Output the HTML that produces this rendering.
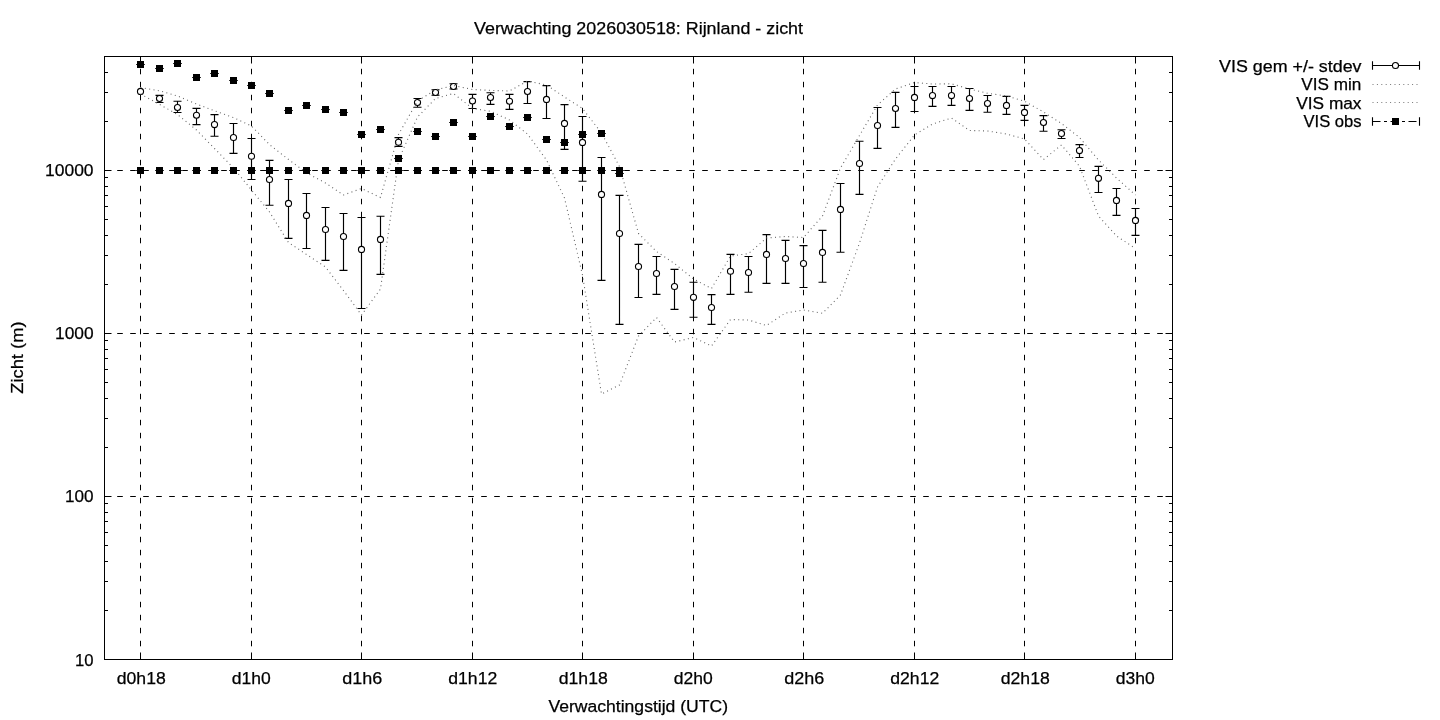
<!DOCTYPE html>
<html><head><meta charset="utf-8"><style>
html,body{margin:0;padding:0;background:#fff;width:1440px;height:720px;overflow:hidden}
svg{display:block;will-change:transform}
text{font-family:"Liberation Sans", sans-serif;fill:#000;stroke:#000;stroke-width:0.25px}
</style></head><body>
<svg width="1440" height="720" viewBox="0 0 1440 720">
<rect width="1440" height="720" fill="#fff"/>
<line x1="140.5" y1="659.3" x2="140.5" y2="56.5" stroke="#000" stroke-width="1" stroke-dasharray="5.5 7.5"/>
<line x1="251.5" y1="659.3" x2="251.5" y2="56.5" stroke="#000" stroke-width="1" stroke-dasharray="5.5 7.5"/>
<line x1="361.5" y1="659.3" x2="361.5" y2="56.5" stroke="#000" stroke-width="1" stroke-dasharray="5.5 7.5"/>
<line x1="472.5" y1="659.3" x2="472.5" y2="56.5" stroke="#000" stroke-width="1" stroke-dasharray="5.5 7.5"/>
<line x1="582.5" y1="659.3" x2="582.5" y2="56.5" stroke="#000" stroke-width="1" stroke-dasharray="5.5 7.5"/>
<line x1="693.5" y1="659.3" x2="693.5" y2="56.5" stroke="#000" stroke-width="1" stroke-dasharray="5.5 7.5"/>
<line x1="803.5" y1="659.3" x2="803.5" y2="56.5" stroke="#000" stroke-width="1" stroke-dasharray="5.5 7.5"/>
<line x1="914.5" y1="659.3" x2="914.5" y2="56.5" stroke="#000" stroke-width="1" stroke-dasharray="5.5 7.5"/>
<line x1="1024.5" y1="659.3" x2="1024.5" y2="56.5" stroke="#000" stroke-width="1" stroke-dasharray="5.5 7.5"/>
<line x1="1135.5" y1="659.3" x2="1135.5" y2="56.5" stroke="#000" stroke-width="1" stroke-dasharray="5.5 7.5"/>
<line x1="104.2" y1="170.5" x2="1172.5" y2="170.5" stroke="#000" stroke-width="1" stroke-dasharray="5.6 7.4"/>
<line x1="104.2" y1="333.5" x2="1172.5" y2="333.5" stroke="#000" stroke-width="1" stroke-dasharray="5.6 7.4"/>
<line x1="104.2" y1="496.5" x2="1172.5" y2="496.5" stroke="#000" stroke-width="1" stroke-dasharray="5.6 7.4"/>
<path d="M140.5 659.5v-7M140.5 56.5v7M251.5 659.5v-7M251.5 56.5v7M361.5 659.5v-7M361.5 56.5v7M472.5 659.5v-7M472.5 56.5v7M582.5 659.5v-7M582.5 56.5v7M693.5 659.5v-7M693.5 56.5v7M803.5 659.5v-7M803.5 56.5v7M914.5 659.5v-7M914.5 56.5v7M1024.5 659.5v-7M1024.5 56.5v7M1135.5 659.5v-7M1135.5 56.5v7M104.5 170.5h7M1172.5 170.5h-7M104.5 333.5h7M1172.5 333.5h-7M104.5 496.5h7M1172.5 496.5h-7M104.5 610.50h3.5M1172.5 610.50h-3.5M104.5 581.50h3.5M1172.5 581.50h-3.5M104.5 561.50h3.5M1172.5 561.50h-3.5M104.5 545.50h3.5M1172.5 545.50h-3.5M104.5 532.50h3.5M1172.5 532.50h-3.5M104.5 521.50h3.5M1172.5 521.50h-3.5M104.5 512.50h3.5M1172.5 512.50h-3.5M104.5 503.50h3.5M1172.5 503.50h-3.5M104.5 447.50h3.5M1172.5 447.50h-3.5M104.5 418.50h3.5M1172.5 418.50h-3.5M104.5 398.50h3.5M1172.5 398.50h-3.5M104.5 382.50h3.5M1172.5 382.50h-3.5M104.5 369.50h3.5M1172.5 369.50h-3.5M104.5 358.50h3.5M1172.5 358.50h-3.5M104.5 349.50h3.5M1172.5 349.50h-3.5M104.5 340.50h3.5M1172.5 340.50h-3.5M104.5 284.50h3.5M1172.5 284.50h-3.5M104.5 255.50h3.5M1172.5 255.50h-3.5M104.5 235.50h3.5M1172.5 235.50h-3.5M104.5 219.50h3.5M1172.5 219.50h-3.5M104.5 206.50h3.5M1172.5 206.50h-3.5M104.5 195.50h3.5M1172.5 195.50h-3.5M104.5 186.50h3.5M1172.5 186.50h-3.5M104.5 177.50h3.5M1172.5 177.50h-3.5M104.5 121.50h3.5M1172.5 121.50h-3.5M104.5 92.50h3.5M1172.5 92.50h-3.5M104.5 72.50h3.5M1172.5 72.50h-3.5M104.5 56.50h3.5M1172.5 56.50h-3.5" stroke="#000" stroke-width="1" fill="none"/>
<rect x="104.5" y="56.5" width="1068.0" height="603.0" fill="none" stroke="#000" stroke-width="1"/>
<path d="M159.50 95.40V102.50M155.50 95.40h8M155.50 102.50h8M177.50 101.25V112.50M173.50 101.25h8M173.50 112.50h8M196.50 108.40V124.60M192.50 108.40h8M192.50 124.60h8M214.50 114.60V136.25M210.50 114.60h8M210.50 136.25h8M233.50 123.50V153.40M229.50 123.50h8M229.50 153.40h8M251.50 138.50V179.50M247.50 138.50h8M247.50 179.50h8M269.50 160.40V205.25M265.50 160.40h8M265.50 205.25h8M288.50 179.50V238.40M284.50 179.50h8M284.50 238.40h8M306.50 193.50V248.50M302.50 193.50h8M302.50 248.50h8M325.50 207.50V260.40M321.50 207.50h8M321.50 260.40h8M343.50 213.50V270.40M339.50 213.50h8M339.50 270.40h8M361.50 217.50V308.50M357.50 217.50h8M357.50 308.50h8M380.50 216.25V274.40M376.50 216.25h8M376.50 274.40h8M398.50 137.60V146.40M394.50 137.60h8M394.50 146.40h8M417.50 98.50V107.25M413.50 98.50h8M413.50 107.25h8M435.50 89.75V95.25M431.50 89.75h8M431.50 95.25h8M453.50 83.75V89.00M449.50 83.75h8M449.50 89.00h8M472.50 94.40V108.50M468.50 94.40h8M468.50 108.50h8M490.50 92.75V104.40M486.50 92.75h8M486.50 104.40h8M509.50 94.40V109.40M505.50 94.40h8M505.50 109.40h8M527.50 81.60V103.50M523.50 81.60h8M523.50 103.50h8M546.50 85.60V118.50M542.50 85.60h8M542.50 118.50h8M564.50 104.60V149.40M560.50 104.60h8M560.50 149.40h8M582.50 116.50V181.25M578.50 116.50h8M578.50 181.25h8M601.50 157.50V280.40M597.50 157.50h8M597.50 280.40h8M619.50 195.40V324.40M615.50 195.40h8M615.50 324.40h8M638.50 244.40V297.50M634.50 244.40h8M634.50 297.50h8M656.50 256.50V294.40M652.50 256.50h8M652.50 294.40h8M674.50 269.40V309.40M670.50 269.40h8M670.50 309.40h8M693.50 282.25V317.25M689.50 282.25h8M689.50 317.25h8M711.50 294.60V324.40M707.50 294.60h8M707.50 324.40h8M730.50 254.40V294.40M726.50 254.40h8M726.50 294.40h8M748.50 256.50V292.25M744.50 256.50h8M744.50 292.25h8M766.50 234.60V283.40M762.50 234.60h8M762.50 283.40h8M785.50 240.40V283.40M781.50 240.40h8M781.50 283.40h8M803.50 245.60V287.50M799.50 245.60h8M799.50 287.50h8M822.50 230.40V282.25M818.50 230.40h8M818.50 282.25h8M840.50 183.50V252.25M836.50 183.50h8M836.50 252.25h8M859.50 141.25V194.40M855.50 141.25h8M855.50 194.40h8M877.50 107.50V148.40M873.50 107.50h8M873.50 148.40h8M895.50 92.40V127.40M891.50 92.40h8M891.50 127.40h8M914.50 86.50V111.50M910.50 86.50h8M910.50 111.50h8M932.50 86.50V106.40M928.50 86.50h8M928.50 106.40h8M951.50 86.50V105.30M947.50 86.50h8M947.50 105.30h8M969.50 88.50V110.30M965.50 88.50h8M965.50 110.30h8M987.50 95.50V112.25M983.50 95.50h8M983.50 112.25h8M1006.50 96.40V114.40M1002.50 96.40h8M1002.50 114.40h8M1024.50 105.40V120.40M1020.50 105.40h8M1020.50 120.40h8M1043.50 115.60V131.25M1039.50 115.60h8M1039.50 131.25h8M1061.50 129.75V138.50M1057.50 129.75h8M1057.50 138.50h8M1079.50 144.60V157.50M1075.50 144.60h8M1075.50 157.50h8M1098.50 166.40V192.50M1094.50 166.40h8M1094.50 192.50h8M1116.50 188.50V215.40M1112.50 188.50h8M1112.50 215.40h8M1135.50 208.50V235.40M1131.50 208.50h8M1131.50 235.40h8" stroke="#000" stroke-width="1.15" fill="none"/>
<circle cx="140.50" cy="91.40" r="3.05" fill="#fff" stroke="#000" stroke-width="1.1"/>
<circle cx="159.50" cy="98.50" r="3.05" fill="#fff" stroke="#000" stroke-width="1.1"/>
<circle cx="177.50" cy="107.50" r="3.05" fill="#fff" stroke="#000" stroke-width="1.1"/>
<circle cx="196.50" cy="115.25" r="3.05" fill="#fff" stroke="#000" stroke-width="1.1"/>
<circle cx="214.50" cy="124.60" r="3.05" fill="#fff" stroke="#000" stroke-width="1.1"/>
<circle cx="233.50" cy="137.50" r="3.05" fill="#fff" stroke="#000" stroke-width="1.1"/>
<circle cx="251.50" cy="156.25" r="3.05" fill="#fff" stroke="#000" stroke-width="1.1"/>
<circle cx="269.50" cy="179.50" r="3.05" fill="#fff" stroke="#000" stroke-width="1.1"/>
<circle cx="288.50" cy="203.40" r="3.05" fill="#fff" stroke="#000" stroke-width="1.1"/>
<circle cx="306.50" cy="215.40" r="3.05" fill="#fff" stroke="#000" stroke-width="1.1"/>
<circle cx="325.50" cy="229.50" r="3.05" fill="#fff" stroke="#000" stroke-width="1.1"/>
<circle cx="343.50" cy="236.50" r="3.05" fill="#fff" stroke="#000" stroke-width="1.1"/>
<circle cx="361.50" cy="249.40" r="3.05" fill="#fff" stroke="#000" stroke-width="1.1"/>
<circle cx="380.50" cy="239.40" r="3.05" fill="#fff" stroke="#000" stroke-width="1.1"/>
<circle cx="398.50" cy="142.25" r="3.05" fill="#fff" stroke="#000" stroke-width="1.1"/>
<circle cx="417.50" cy="102.50" r="3.05" fill="#fff" stroke="#000" stroke-width="1.1"/>
<circle cx="435.50" cy="92.50" r="3.05" fill="#fff" stroke="#000" stroke-width="1.1"/>
<circle cx="453.50" cy="86.50" r="3.05" fill="#fff" stroke="#000" stroke-width="1.1"/>
<circle cx="472.50" cy="101.00" r="3.05" fill="#fff" stroke="#000" stroke-width="1.1"/>
<circle cx="490.50" cy="97.50" r="3.05" fill="#fff" stroke="#000" stroke-width="1.1"/>
<circle cx="509.50" cy="101.25" r="3.05" fill="#fff" stroke="#000" stroke-width="1.1"/>
<circle cx="527.50" cy="91.50" r="3.05" fill="#fff" stroke="#000" stroke-width="1.1"/>
<circle cx="546.50" cy="99.40" r="3.05" fill="#fff" stroke="#000" stroke-width="1.1"/>
<circle cx="564.50" cy="123.40" r="3.05" fill="#fff" stroke="#000" stroke-width="1.1"/>
<circle cx="582.50" cy="142.40" r="3.05" fill="#fff" stroke="#000" stroke-width="1.1"/>
<circle cx="601.50" cy="194.40" r="3.05" fill="#fff" stroke="#000" stroke-width="1.1"/>
<circle cx="619.50" cy="233.50" r="3.05" fill="#fff" stroke="#000" stroke-width="1.1"/>
<circle cx="638.50" cy="266.50" r="3.05" fill="#fff" stroke="#000" stroke-width="1.1"/>
<circle cx="656.50" cy="273.50" r="3.05" fill="#fff" stroke="#000" stroke-width="1.1"/>
<circle cx="674.50" cy="286.50" r="3.05" fill="#fff" stroke="#000" stroke-width="1.1"/>
<circle cx="693.50" cy="297.30" r="3.05" fill="#fff" stroke="#000" stroke-width="1.1"/>
<circle cx="711.50" cy="307.50" r="3.05" fill="#fff" stroke="#000" stroke-width="1.1"/>
<circle cx="730.50" cy="271.25" r="3.05" fill="#fff" stroke="#000" stroke-width="1.1"/>
<circle cx="748.50" cy="272.50" r="3.05" fill="#fff" stroke="#000" stroke-width="1.1"/>
<circle cx="766.50" cy="254.40" r="3.05" fill="#fff" stroke="#000" stroke-width="1.1"/>
<circle cx="785.50" cy="258.50" r="3.05" fill="#fff" stroke="#000" stroke-width="1.1"/>
<circle cx="803.50" cy="263.50" r="3.05" fill="#fff" stroke="#000" stroke-width="1.1"/>
<circle cx="822.50" cy="252.40" r="3.05" fill="#fff" stroke="#000" stroke-width="1.1"/>
<circle cx="840.50" cy="209.40" r="3.05" fill="#fff" stroke="#000" stroke-width="1.1"/>
<circle cx="859.50" cy="163.50" r="3.05" fill="#fff" stroke="#000" stroke-width="1.1"/>
<circle cx="877.50" cy="125.50" r="3.05" fill="#fff" stroke="#000" stroke-width="1.1"/>
<circle cx="895.50" cy="108.50" r="3.05" fill="#fff" stroke="#000" stroke-width="1.1"/>
<circle cx="914.50" cy="97.40" r="3.05" fill="#fff" stroke="#000" stroke-width="1.1"/>
<circle cx="932.50" cy="95.60" r="3.05" fill="#fff" stroke="#000" stroke-width="1.1"/>
<circle cx="951.50" cy="95.60" r="3.05" fill="#fff" stroke="#000" stroke-width="1.1"/>
<circle cx="969.50" cy="98.50" r="3.05" fill="#fff" stroke="#000" stroke-width="1.1"/>
<circle cx="987.50" cy="103.50" r="3.05" fill="#fff" stroke="#000" stroke-width="1.1"/>
<circle cx="1006.50" cy="105.40" r="3.05" fill="#fff" stroke="#000" stroke-width="1.1"/>
<circle cx="1024.50" cy="112.40" r="3.05" fill="#fff" stroke="#000" stroke-width="1.1"/>
<circle cx="1043.50" cy="122.50" r="3.05" fill="#fff" stroke="#000" stroke-width="1.1"/>
<circle cx="1061.50" cy="133.50" r="3.05" fill="#fff" stroke="#000" stroke-width="1.1"/>
<circle cx="1079.50" cy="150.60" r="3.05" fill="#fff" stroke="#000" stroke-width="1.1"/>
<circle cx="1098.50" cy="178.30" r="3.05" fill="#fff" stroke="#000" stroke-width="1.1"/>
<circle cx="1116.50" cy="200.40" r="3.05" fill="#fff" stroke="#000" stroke-width="1.1"/>
<circle cx="1135.50" cy="220.40" r="3.05" fill="#fff" stroke="#000" stroke-width="1.1"/>
<polyline points="140.50,94.00 159.50,104.40 177.50,114.50 196.50,130.00 214.50,148.50 233.50,168.00 251.50,190.00 269.50,212.00 288.50,242.50 306.50,254.50 325.50,267.00 343.50,290.50 361.50,315.00 380.50,289.00 398.50,160.00 417.50,117.00 435.50,98.50 453.50,93.50 472.50,108.50 490.50,111.25 509.50,120.00 527.50,134.00 546.50,160.00 564.50,198.00 582.50,275.00 601.50,394.00 619.50,385.00 638.50,336.00 656.50,317.50 674.50,342.00 693.50,337.50 711.50,346.00 730.50,319.50 748.50,320.00 766.50,325.50 785.50,313.00 803.50,310.00 822.50,313.30 840.50,295.00 859.50,243.00 877.50,187.00 895.50,159.00 914.50,135.00 932.50,124.00 951.50,118.00 969.50,130.50 987.50,131.00 1006.50,134.00 1024.50,139.00 1043.50,159.50 1061.50,145.00 1079.50,166.25 1098.50,216.00 1116.50,236.00 1135.50,248.50" fill="none" stroke="#666" stroke-width="1.1" stroke-dasharray="1 3.4"/>
<polyline points="140.50,87.50 159.50,90.80 177.50,96.00 196.50,104.00 214.50,110.80 233.50,117.60 251.50,126.00 269.50,144.60 288.50,159.50 306.50,172.80 325.50,183.00 343.50,195.00 361.50,188.50 380.50,197.50 398.50,134.50 417.50,101.00 435.50,90.00 453.50,85.50 472.50,89.50 490.50,90.40 509.50,91.00 527.50,81.00 546.50,85.00 564.50,97.00 582.50,108.50 601.50,133.00 619.50,166.60 638.50,233.50 656.50,251.50 674.50,263.50 693.50,279.00 711.50,288.50 730.50,256.00 748.50,253.60 766.50,238.00 785.50,236.50 803.50,237.50 822.50,216.00 840.50,168.00 859.50,135.50 877.50,105.00 895.50,89.00 914.50,82.50 932.50,84.00 951.50,83.80 969.50,89.00 987.50,93.30 1006.50,96.00 1024.50,101.20 1043.50,112.00 1061.50,123.50 1079.50,137.50 1098.50,160.00 1116.50,178.00 1135.50,195.00" fill="none" stroke="#666" stroke-width="1.1" stroke-dasharray="1 3.4"/>
<path d="M137.00 61.00h7v7h-7zM156.00 65.00h7v7h-7zM174.00 60.00h7v7h-7zM193.00 74.00h7v7h-7zM211.00 70.00h7v7h-7zM230.00 77.00h7v7h-7zM248.00 82.00h7v7h-7zM266.00 90.00h7v7h-7zM285.00 107.00h7v7h-7zM303.00 102.00h7v7h-7zM322.00 106.00h7v7h-7zM340.00 109.00h7v7h-7zM358.00 131.00h7v7h-7zM377.00 126.00h7v7h-7zM395.00 155.00h7v7h-7zM414.00 128.00h7v7h-7zM432.00 133.00h7v7h-7zM450.00 119.00h7v7h-7zM469.00 133.00h7v7h-7zM487.00 113.00h7v7h-7zM506.00 123.00h7v7h-7zM524.00 114.00h7v7h-7zM543.00 136.00h7v7h-7zM561.00 139.00h7v7h-7zM579.00 131.00h7v7h-7zM598.00 130.00h7v7h-7zM616.00 170.00h7v7h-7zM137.00 167.00h7v7h-7zM156.00 167.00h7v7h-7zM174.00 167.00h7v7h-7zM193.00 167.00h7v7h-7zM211.00 167.00h7v7h-7zM230.00 167.00h7v7h-7zM248.00 167.00h7v7h-7zM266.00 167.00h7v7h-7zM285.00 167.00h7v7h-7zM303.00 167.00h7v7h-7zM322.00 167.00h7v7h-7zM340.00 167.00h7v7h-7zM358.00 167.00h7v7h-7zM377.00 167.00h7v7h-7zM395.00 167.00h7v7h-7zM414.00 167.00h7v7h-7zM432.00 167.00h7v7h-7zM450.00 167.00h7v7h-7zM469.00 167.00h7v7h-7zM487.00 167.00h7v7h-7zM506.00 167.00h7v7h-7zM524.00 167.00h7v7h-7zM543.00 167.00h7v7h-7zM561.00 167.00h7v7h-7zM579.00 167.00h7v7h-7zM598.00 167.00h7v7h-7zM616.00 167.00h7v7h-7z" fill="#000"/>
<path d="M136.20 64.50h8.6M155.20 68.50h8.6M173.20 63.50h8.6M192.20 77.50h8.6M210.20 73.50h8.6M229.20 80.50h8.6M247.20 85.50h8.6M265.20 93.50h8.6M284.20 110.50h8.6M302.20 105.50h8.6M321.20 109.50h8.6M339.20 112.50h8.6M357.20 134.50h8.6M376.20 129.50h8.6M394.20 158.50h8.6M413.20 131.50h8.6M431.20 136.50h8.6M449.20 122.50h8.6M468.20 136.50h8.6M486.20 116.50h8.6M505.20 126.50h8.6M523.20 117.50h8.6M542.20 139.50h8.6M560.20 142.50h8.6M578.20 134.50h8.6M597.20 133.50h8.6M615.20 173.50h8.6M136.20 170.5h8.6M155.20 170.5h8.6M173.20 170.5h8.6M192.20 170.5h8.6M210.20 170.5h8.6M229.20 170.5h8.6M247.20 170.5h8.6M265.20 170.5h8.6M284.20 170.5h8.6M302.20 170.5h8.6M321.20 170.5h8.6M339.20 170.5h8.6M357.20 170.5h8.6M376.20 170.5h8.6M394.20 170.5h8.6M413.20 170.5h8.6M431.20 170.5h8.6M449.20 170.5h8.6M468.20 170.5h8.6M486.20 170.5h8.6M505.20 170.5h8.6M523.20 170.5h8.6M542.20 170.5h8.6M560.20 170.5h8.6M578.20 170.5h8.6M597.20 170.5h8.6M615.20 170.5h8.6" stroke="#000" stroke-width="1" fill="none"/>
<text x="474.00" y="34.45" font-size="17.2" textLength="329.00" lengthAdjust="spacingAndGlyphs">Verwachting 2026030518: Rijnland - zicht</text>
<text x="45.00" y="176.35" font-size="17.2" textLength="48.56" lengthAdjust="spacingAndGlyphs">10000</text>
<text x="55.00" y="339.45" font-size="17.2" textLength="38.58" lengthAdjust="spacingAndGlyphs">1000</text>
<text x="65.00" y="502.45" font-size="17.2" textLength="28.61" lengthAdjust="spacingAndGlyphs">100</text>
<text x="75.00" y="665.75" font-size="17.2" textLength="18.55" lengthAdjust="spacingAndGlyphs">10</text>
<text x="116.75" y="684.45" font-size="17.2" textLength="49.01" lengthAdjust="spacingAndGlyphs">d0h18</text>
<text x="231.75" y="684.45" font-size="17.2" textLength="39.00" lengthAdjust="spacingAndGlyphs">d1h0</text>
<text x="342.25" y="684.45" font-size="17.2" textLength="40.05" lengthAdjust="spacingAndGlyphs">d1h6</text>
<text x="448.25" y="684.45" font-size="17.2" textLength="49.01" lengthAdjust="spacingAndGlyphs">d1h12</text>
<text x="558.75" y="684.45" font-size="17.2" textLength="49.01" lengthAdjust="spacingAndGlyphs">d1h18</text>
<text x="673.75" y="684.45" font-size="17.2" textLength="39.00" lengthAdjust="spacingAndGlyphs">d2h0</text>
<text x="784.25" y="684.45" font-size="17.2" textLength="40.05" lengthAdjust="spacingAndGlyphs">d2h6</text>
<text x="890.25" y="684.45" font-size="17.2" textLength="49.01" lengthAdjust="spacingAndGlyphs">d2h12</text>
<text x="1000.75" y="684.45" font-size="17.2" textLength="49.01" lengthAdjust="spacingAndGlyphs">d2h18</text>
<text x="1115.75" y="684.45" font-size="17.2" textLength="39.00" lengthAdjust="spacingAndGlyphs">d3h0</text>
<text x="548.50" y="712.35" font-size="17.2" textLength="179.50" lengthAdjust="spacingAndGlyphs">Verwachtingstijd (UTC)</text>
<text transform="translate(22.90,393.75) rotate(-90)" font-size="17.2" textLength="72.27" lengthAdjust="spacingAndGlyphs">Zicht (m)</text>
<text x="1219.00" y="71.75" font-size="17.2" textLength="142.51" lengthAdjust="spacingAndGlyphs">VIS gem +/- stdev</text>
<text x="1301.25" y="90.05" font-size="17.2" textLength="60.00" lengthAdjust="spacingAndGlyphs">VIS min</text>
<text x="1296.25" y="108.80" font-size="17.2" textLength="65.26" lengthAdjust="spacingAndGlyphs">VIS max</text>
<text x="1303.50" y="127.15" font-size="17.2" textLength="58.02" lengthAdjust="spacingAndGlyphs">VIS obs</text>
<path d="M1372.5 65.5H1419.5M1372.5 61.2v8.5M1419.5 61.2v8.5" stroke="#000" stroke-width="1.1" fill="none"/>
<circle cx="1395.5" cy="65.5" r="3.05" fill="#fff" stroke="#000" stroke-width="1.1"/>
<line x1="1372.5" y1="84.5" x2="1418" y2="84.5" stroke="#777" stroke-width="1" stroke-dasharray="1 3.4"/>
<line x1="1372.5" y1="102.5" x2="1418" y2="102.5" stroke="#777" stroke-width="1" stroke-dasharray="1 3.4"/>
<line x1="1372.5" y1="121.5" x2="1419.5" y2="121.5" stroke="#000" stroke-width="1.1" stroke-dasharray="8 3.5 3 3.5"/>
<path d="M1372.5 117.2v8.5M1419.5 117.2v8.5" stroke="#000" stroke-width="1.1" fill="none"/>
<rect x="1392" y="118" width="7" height="7" fill="#000"/>
</svg></body></html>
